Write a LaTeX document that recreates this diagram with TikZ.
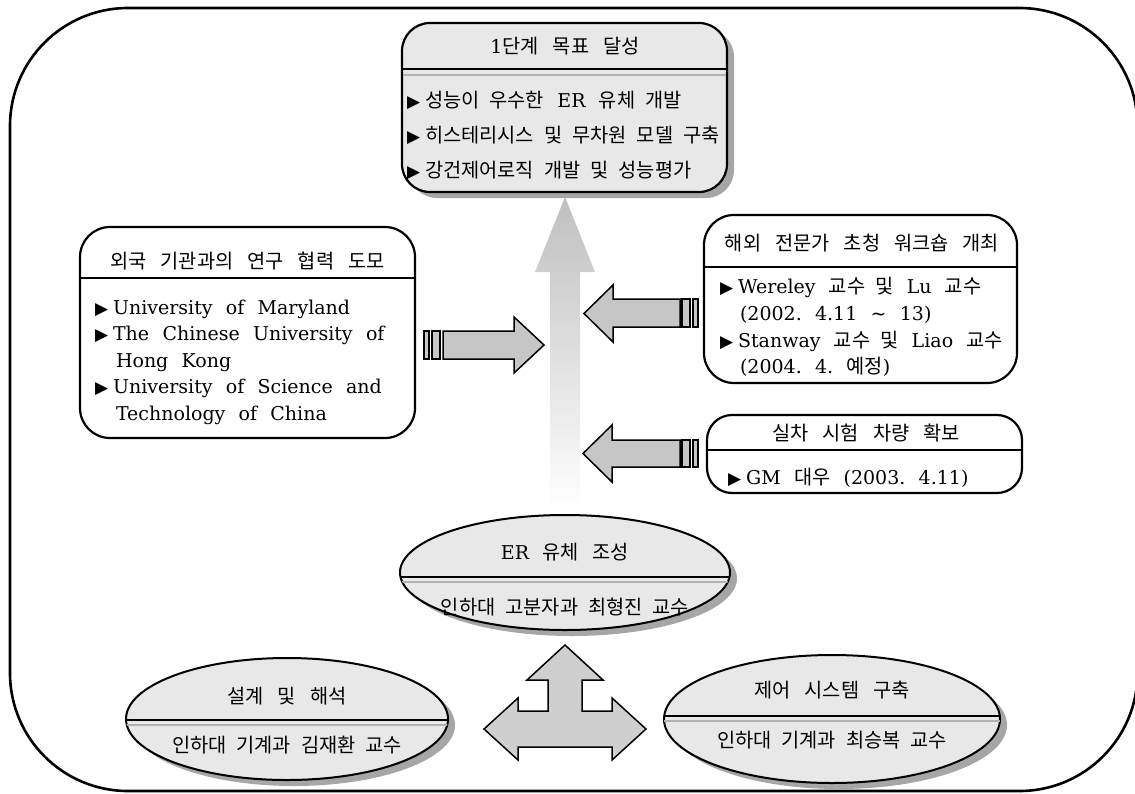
\documentclass[tikz,border=0pt]{standalone}
\usepackage{fontspec}
\setmainfont{DejaVu Serif}[WordSpace=2.2]
\newfontfamily\kr{Noto Sans CJK KR}[Scale=1.04]
\newfontfamily\symf{DejaVu Sans}
\usetikzlibrary{shapes.geometric,shadows,calc}
\newcommand\K[1]{{\kr\spaceskip=10pt\relax #1}}
\newcommand\KT[1]{{\kr\spaceskip=14pt\relax #1}}
\newcommand\bul{{\symf\fontsize{17}{17}\selectfont ▶}\hspace{5pt}}
\frenchspacing
\begin{document}
\begin{tikzpicture}[x=1pt,y=-1pt,
  font=\fontsize{19}{23}\selectfont,
  every node/.style={inner sep=0pt,outer sep=0pt},
  frame/.style={draw=black,line width=2.6pt,rounded corners=118pt},
  boxw/.style={draw=black,line width=2.2pt,fill=white,rounded corners=30pt},
  goalbox/.style={draw=black,line width=2.2pt,fill=gray!18,rounded corners=28pt,
     drop shadow={shadow xshift=7pt,shadow yshift=-6pt,fill=gray!70,opacity=1}},
  ell/.style={ellipse,draw=black,line width=2pt,fill=gray!18,
     drop shadow={shadow xshift=7pt,shadow yshift=-6pt,fill=gray!70,opacity=1}},
  sepline/.style={draw=black,line width=1.8pt},
  sepshade/.style={draw=gray!60,line width=2pt},
  barrow/.style={draw=black,line width=1.5pt,fill=gray!45,line join=miter},
  bar/.style={draw=black,line width=1.2pt,fill=gray!45},
  txt/.style={anchor=base},
  item/.style={anchor=base west},
]
\useasboundingbox (0,0) rectangle (1135,793);
\clip (0,0) rectangle (1135,793);
% outer frame
\draw[frame] (10,8) rectangle (1137.5,791);

% central faded arrow
\shade[top color=gray!50,bottom color=white]
  (565,197) -- (595,272) -- (580,272) -- (580,510) -- (550,510) -- (550,272) -- (535,272) -- cycle;

% top goal box
\node[goalbox,minimum width=325pt,minimum height=169pt] (goal) at (564.5,107.5) {};
\draw[sepline] (402,69) -- (727,69);
\draw[sepshade] (403,75) -- (726,75);
\node[txt] (goal-t) at (565,53) {1\KT{단계 목표 달성}};
\node[item] (goal-1) at (407,107) {\bul\K{성능이 우수한} ER \K{유체 개발}};
\node[item] (goal-2) at (407,142) {\bul\K{히스테리시스 및 무차원 모델 구축}};
\node[item] (goal-3) at (407,177) {\bul\K{강건제어로직 개발 및 성능평가}};

% left box
\node[boxw,minimum width=335pt,minimum height=211pt] (lbox) at (247.5,332.5) {};
\draw[sepline,line width=2pt] (80,278) -- (415,278);
\node[txt] (lbox-t) at (247.5,268) {\KT{외국 기관과의 연구 협력 도모}};
\node[item] (lbox-1) at (95,314) {\bul University of Maryland};
\node[item] (lbox-2) at (95,340.5) {\bul The Chinese University of};
\node[item] (lbox-3) at (116,367) {Hong Kong};
\node[item] (lbox-4) at (95,393.5) {\bul University of Science and};
\node[item] (lbox-5) at (116,420) {Technology of China};

% right box 1
\node[boxw,minimum width=313pt,minimum height=168pt] (rb1) at (860.5,299) {};
\draw[sepline,line width=2pt] (704,267) -- (1017,267);
\node[txt] (rb1-t) at (862,250) {\KT{해외 전문가 초청 워크숍 개최}};
\node[item] (rb1-1) at (720,293) {\bul Wereley \K{교수 및} Lu \K{교수}};
\node[item] (rb1-2) at (740,320) {(2002. 4.11 \textasciitilde\ 13)};
\node[item] (rb1-3) at (720,347) {\bul Stanway \K{교수 및} Liao \K{교수}};
\node[item] (rb1-4) at (740,373) {(2004. 4. \K{예정})};

% right box 2
\node[boxw,rounded corners=25pt,minimum width=315pt,minimum height=78pt] (rb2) at (864.5,454) {};
\draw[sepline,line width=2pt] (707,450) -- (1022,450);
\node[txt] (rb2-t) at (866,440) {\KT{실차 시험 차량 확보}};
\node[item] (rb2-1) at (728,484) {\bul GM \K{대우} (2003. 4.11)};

% side arrows
\draw[bar] (424,331) rectangle (429,359);
\draw[bar] (432,331) rectangle (440,359);
\draw[barrow] (443,331) -- (514,331) -- (514,317) -- (544,345) -- (514,373) -- (514,359) -- (443,359) -- cycle;

\draw[barrow] (680,299) -- (613,299) -- (613,285) -- (584,313.5) -- (613,342) -- (613,327) -- (680,327) -- cycle;
\draw[bar] (682,299) rectangle (690,327);
\draw[bar] (693,299) rectangle (698,327);

\draw[barrow] (680,440) -- (612,440) -- (612,425) -- (583,453.5) -- (612,482) -- (612,467) -- (680,467) -- cycle;
\draw[bar] (682,440) rectangle (690,467);
\draw[bar] (693,440) rectangle (698,467);

% ER ellipse
\node[ell,minimum width=330pt,minimum height=115pt] (er) at (565,572.5) {};
\begin{scope}
  \clip (565,572.5) ellipse [x radius=165, y radius=57.5];
  \draw[sepline] (390,577) -- (740,577);
  \draw[sepshade] (390,582) -- (740,582);
\end{scope}
\node[txt] (er-t) at (565,559) {ER \KT{유체 조성}};
\node[txt] (er-s) at (565,614) {\K{인하대 고분자과 최형진 교수}};

% design ellipse
\node[ell,minimum width=322pt,minimum height=122pt] (des) at (287,719) {};
\begin{scope}
  \clip (287,719) ellipse [x radius=161, y radius=61];
  \draw[sepline] (120,720) -- (460,720);
  \draw[sepshade] (120,725) -- (460,725);
\end{scope}
\node[txt] (des-t) at (287,703) {\KT{설계 및 해석}};
\node[txt] (des-s) at (287,752) {\K{인하대 기계과 김재환 교수}};

% control ellipse
\node[ell,minimum width=336pt,minimum height=128pt] (ctl) at (832,719) {};
\begin{scope}
  \clip (832,719) ellipse [x radius=168, y radius=64];
  \draw[sepline] (660,716) -- (1005,716);
  \draw[sepshade] (660,721) -- (1005,721);
\end{scope}
\node[txt] (ctl-t) at (832,697) {\KT{제어 시스템 구축}};
\node[txt] (ctl-s) at (832,747) {\K{인하대 기계과 최승복 교수}};

% three-way arrow
\draw[barrow,fill=gray!38] (565,645) -- (603,680) -- (582,680) -- (582,711) -- (612,711) -- (612,698) -- (646,729)
  -- (612,760) -- (612,747) -- (518,747) -- (518,760) -- (484,729) -- (518,698) -- (518,711)
  -- (548,711) -- (548,680) -- (527,680) -- cycle;
\end{tikzpicture}
\end{document}
